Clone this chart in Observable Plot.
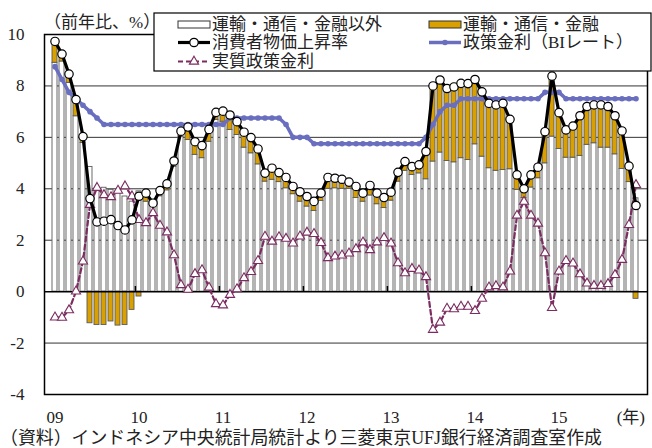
<!DOCTYPE html>
<html>
<head>
<meta charset="utf-8">
<script src="https://cdn.jsdelivr.net/npm/d3@7"></script>
<script src="https://cdn.jsdelivr.net/npm/@observablehq/plot@0.6"></script>
<style>
  body { margin: 0; background: #fff; }
  svg { display: block; }
</style>
</head>
<body>
<div id="chart"></div>
<script>
// Monthly categories, Jan 2009 – Dec 2015
const months = d3.utcMonths(new Date(Date.UTC(2009, 0, 1)), new Date(Date.UTC(2016, 0, 1)))
  .map(d => d3.utcFormat("%Y-%m")(d));
const januaries = months.filter(m => m.endsWith("-01"));
const yearLabels = ["09", "10", "11", "12", "13", "14", "15"];

// Consumer price inflation, y/y %
const cpi = [
  9.73, 9.24, 8.46, 7.47, 6.03, 3.62, 2.71, 2.74, 2.80, 2.57, 2.40, 2.79,
  3.71, 3.83, 3.44, 3.93, 4.19, 5.08, 6.24, 6.40, 5.83, 5.68, 6.31, 6.97,
  7.02, 6.87, 6.61, 6.20, 5.99, 5.55, 4.61, 4.80, 4.63, 4.44, 4.09, 3.88,
  3.70, 3.51, 3.83, 4.44, 4.41, 4.37, 4.26, 4.09, 3.83, 4.13, 3.83, 3.66,
  3.87, 4.64, 5.06, 4.86, 4.93, 5.45, 8.00, 8.23, 7.90, 7.96, 8.10, 8.09,
  8.25, 7.77, 7.32, 7.26, 7.32, 6.70, 4.54, 4.00, 4.54, 4.84, 6.22, 8.38,
  6.96, 6.29, 6.44, 6.84, 7.20, 7.26, 7.26, 7.20, 6.84, 6.25, 4.88, 3.35
];

// Contribution: items other than transport, communication and finance
const exTransport = [
  8.90, 8.95, 8.12, 6.82, 5.78, 4.85, 4.01, 4.04, 3.96, 3.89, 3.70, 3.50,
  3.90, 3.50, 3.36, 3.71, 3.94, 4.86, 6.03, 5.90, 5.32, 5.19, 5.83, 6.68,
  6.61, 6.29, 6.09, 5.60, 5.38, 4.95, 4.28, 4.35, 4.26, 4.02, 3.79, 3.50,
  3.31, 3.14, 3.53, 4.00, 4.02, 4.00, 4.00, 3.64, 3.50, 3.74, 3.40, 3.25,
  3.54, 4.28, 4.70, 4.54, 4.60, 4.37, 5.06, 5.41, 5.08, 5.03, 5.19, 5.12,
  5.73, 5.25, 4.80, 4.70, 4.73, 4.76, 3.96, 3.64, 4.05, 4.41, 4.99, 6.03,
  5.55, 5.21, 5.21, 5.28, 5.71, 5.77, 5.60, 5.60, 5.34, 4.77, 4.26, 3.63
];

// Contribution: transport, communication and finance
const transport = [
  0.83, 0.29, 0.34, 0.65, 0.25, -1.23, -1.30, -1.30, -1.16, -1.32, -1.30, -0.71,
  -0.19, 0.33, 0.08, 0.22, 0.25, 0.22, 0.21, 0.50, 0.51, 0.49, 0.48, 0.29,
  0.41, 0.58, 0.52, 0.60, 0.61, 0.60, 0.33, 0.45, 0.37, 0.42, 0.30, 0.38,
  0.39, 0.37, 0.30, 0.44, 0.39, 0.37, 0.26, 0.45, 0.33, 0.39, 0.43, 0.41,
  0.33, 0.36, 0.36, 0.32, 0.33, 1.08, 2.94, 2.82, 2.82, 2.93, 2.91, 2.97,
  2.52, 2.52, 2.52, 2.56, 2.59, 1.94, 0.58, 0.36, 0.49, 0.43, 1.23, 2.35,
  1.41, 1.08, 1.23, 1.56, 1.49, 1.49, 1.66, 1.60, 1.50, 1.48, 0.62, -0.28
];

// Bank Indonesia policy rate (BI rate), %
const biRate = [
  8.75, 8.25, 7.75, 7.50, 7.25, 7.00, 6.75, 6.50, 6.50, 6.50, 6.50, 6.50,
  6.50, 6.50, 6.50, 6.50, 6.50, 6.50, 6.50, 6.50, 6.50, 6.50, 6.50, 6.50,
  6.50, 6.75, 6.75, 6.75, 6.75, 6.75, 6.75, 6.75, 6.75, 6.50, 6.00, 6.00,
  6.00, 5.75, 5.75, 5.75, 5.75, 5.75, 5.75, 5.75, 5.75, 5.75, 5.75, 5.75,
  5.75, 5.75, 5.75, 5.75, 5.75, 6.00, 6.50, 7.00, 7.25, 7.25, 7.50, 7.50,
  7.50, 7.50, 7.50, 7.50, 7.50, 7.50, 7.50, 7.50, 7.50, 7.50, 7.75, 7.75,
  7.75, 7.50, 7.50, 7.50, 7.50, 7.50, 7.50, 7.50, 7.50, 7.50, 7.50, 7.50
];

// Real policy rate, %
const realRate = [
  -1.00, -1.01, -0.72, 0.01, 1.18, 3.38, 4.04, 3.76, 3.68, 3.93, 4.10, 3.71,
  2.79, 2.67, 3.06, 2.57, 2.31, 1.42, 0.26, 0.08, 0.69, 0.84, 0.16, -0.48,
  -0.53, -0.12, 0.10, 0.53, 0.77, 1.20, 2.14, 1.95, 2.12, 2.06, 1.88, 2.15,
  2.30, 2.25, 1.90, 1.31, 1.37, 1.41, 1.49, 1.66, 1.92, 1.62, 1.92, 2.09,
  1.88, 1.11, 0.72, 0.89, 0.83, 0.57, -1.48, -1.20, -0.66, -0.68, -0.58, -0.58,
  -0.75, -0.27, 0.17, 0.22, 0.17, 0.79, 2.96, 3.50, 2.96, 2.65, 1.50, -0.63,
  0.79, 1.20, 1.10, 0.68, 0.32, 0.23, 0.23, 0.30, 0.65, 1.24, 2.60, 4.15
];

const S_EX = "運輸・通信・金融以外";
const S_TR = "運輸・通信・金融";
const S_CPI = "消費者物価上昇率";
const S_BI = "政策金利（BIレート）";
const S_REAL = "実質政策金利";

const ORANGE = "#d9a000";
const BLUE = "#6a6ebf";
const PURPLE = "#7b2c60";
const FONT = "'Liberation Serif', 'Noto Sans CJK JP', serif";

const bars = months.flatMap((m, i) => [
  {month: m, series: S_EX, value: exTransport[i]},
  {month: m, series: S_TR, value: transport[i]}
]);
const cpiRows = months.map((m, i) => ({month: m, value: cpi[i]}));
const biRows = months.map((m, i) => ({month: m, value: biRate[i]}));
const realRows = months.map((m, i) => ({month: m, value: realRate[i]}));

const W = 652, H = 448;
const mL = 44, mR = 5, mT = 34, mB = 54;
const step = (W - mL - mR) / months.length;

const chart = Plot.plot({
  width: W,
  height: H,
  marginLeft: mL,
  marginRight: mR,
  marginTop: mT,
  marginBottom: mB,
  style: {fontFamily: FONT, fontSize: "17px", color: "#222", background: "#fff", overflow: "visible"},
  x: {type: "band", domain: months, paddingInner: 0.28, paddingOuter: 0.14, axis: null},
  y: {domain: [-4, 10], axis: null},
  color: {domain: [S_EX, S_TR], range: ["#ffffff", ORANGE]},
  marks: [
    Plot.ruleY([-2, 2, 4, 6, 8], {stroke: "#333", strokeWidth: 1}),
    Plot.barY(bars, {x: "month", y: "value", fill: "series", stroke: "#5a5a5a", strokeWidth: 0.9}),
    Plot.ruleY([0], {stroke: "#000", strokeWidth: 1.5}),
    Plot.ruleX(januaries.slice(1), {x: d => d, y1: 0, y2: 0.2, dx: -step / 2, stroke: "#000", strokeWidth: 1.5}),
    Plot.axisY([-4, -2, 0, 2, 4, 6, 8, 10], {tickSize: 0, tickPadding: 20, tickFormat: d => String(d), fontSize: 17, label: null}),
    Plot.axisX(januaries, {tickSize: 0, tickPadding: 16, fontSize: 17, label: null, tickFormat: d => yearLabels[januaries.indexOf(d)]}),
    // real policy rate
    Plot.line(realRows, {x: "month", y: "value", stroke: PURPLE, strokeWidth: 2.2, strokeDasharray: "5,3"}),
    Plot.dot(realRows, {x: "month", y: "value", symbol: "triangle", r: 3.4, fill: "#fff", stroke: PURPLE, strokeWidth: 1.1}),
    // BI rate
    Plot.line(biRows, {x: "month", y: "value", stroke: BLUE, strokeWidth: 3.5}),
    Plot.dot(biRows, {x: "month", y: "value", r: 2.8, fill: BLUE}),
    // CPI
    Plot.line(cpiRows, {x: "month", y: "value", stroke: "#000", strokeWidth: 3.2}),
    Plot.dot(cpiRows, {x: "month", y: "value", r: 4.2, fill: "#fff", stroke: "#000", strokeWidth: 1.2}),
    Plot.frame({stroke: "#000", strokeWidth: 1.5})
  ]
});

document.getElementById("chart").appendChild(chart);

// Annotations and legend
const svg = d3.select(chart);
const ann = svg.append("g")
  .attr("font-family", FONT)
  .attr("font-size", 17)
  .attr("text-anchor", "start")
  .attr("fill", "#222");

ann.append("text").attr("x", 44).attr("y", 22).attr("dy", "0.35em").text("（前年比、%）");
ann.append("text").attr("x", 645).attr("y", 417).attr("dy", "0.35em").attr("text-anchor", "end").text("(年)");
ann.append("text").attr("x", 0).attr("y", 438).attr("dy", "0.35em").attr("font-size", 17.9)
  .text("（資料）インドネシア中央統計局統計より三菱東京UFJ銀行経済調査室作成");

const lg = svg.append("g").attr("font-family", FONT).attr("font-size", 17)
  .attr("text-anchor", "start").attr("fill", "#222");
lg.append("rect").attr("x", 154).attr("y", 13).attr("width", 497).attr("height", 58)
  .attr("fill", "#fff").attr("stroke", "#000").attr("stroke-width", 1.2);

const rows = [24.5, 42.5, 61.5];
const c1 = 178, c2 = 429, sw = 32;

// bar swatches
lg.append("rect").attr("x", c1).attr("y", rows[0] - 3.5).attr("width", sw).attr("height", 7)
  .attr("fill", "#fff").attr("stroke", "#333").attr("stroke-width", 1);
lg.append("rect").attr("x", c2).attr("y", rows[0] - 3.5).attr("width", sw).attr("height", 7)
  .attr("fill", ORANGE).attr("stroke", "#333").attr("stroke-width", 1);
// CPI swatch
lg.append("line").attr("x1", c1).attr("x2", c1 + sw).attr("y1", rows[1]).attr("y2", rows[1])
  .attr("stroke", "#000").attr("stroke-width", 3.2);
lg.append("circle").attr("cx", c1 + sw / 2).attr("cy", rows[1]).attr("r", 4.2)
  .attr("fill", "#fff").attr("stroke", "#000").attr("stroke-width", 1.2);
// BI swatch
lg.append("line").attr("x1", c2).attr("x2", c2 + sw).attr("y1", rows[1]).attr("y2", rows[1])
  .attr("stroke", BLUE).attr("stroke-width", 3.5);
lg.append("circle").attr("cx", c2 + sw / 2).attr("cy", rows[1]).attr("r", 2.8).attr("fill", BLUE);
// real rate swatch
lg.append("line").attr("x1", c1).attr("x2", c1 + sw).attr("y1", rows[2]).attr("y2", rows[2])
  .attr("stroke", PURPLE).attr("stroke-width", 2.2).attr("stroke-dasharray", "5,3");
lg.append("path").attr("transform", `translate(${c1 + sw / 2},${rows[2]})`)
  .attr("d", d3.symbol(d3.symbolTriangle, Math.PI * 3.4 * 3.4)())
  .attr("fill", "#fff").attr("stroke", PURPLE).attr("stroke-width", 1.1);

const tx = (x, y, s) => lg.append("text").attr("x", x).attr("y", y).attr("dy", "0.35em").text(s);
tx(c1 + sw + 2, rows[0], S_EX);
tx(c2 + sw + 2, rows[0], S_TR);
tx(c1 + sw + 2, rows[1], S_CPI);
tx(c2 + sw + 2, rows[1], S_BI);
tx(c1 + sw + 2, rows[2], S_REAL);
</script>
</body>
</html>
